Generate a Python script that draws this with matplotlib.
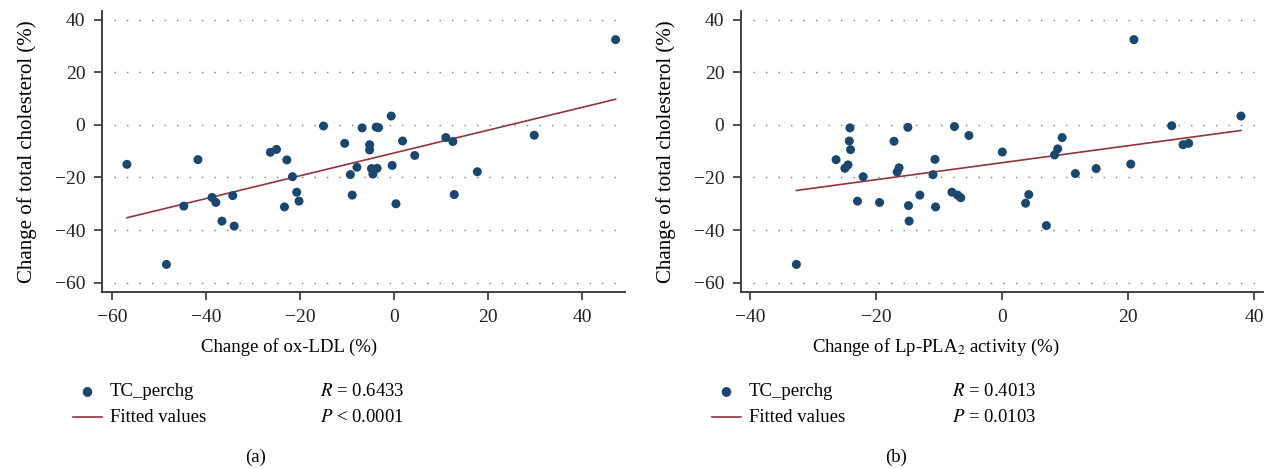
import numpy as np
import matplotlib; matplotlib.use('Agg')
import matplotlib.pyplot as plt

plt.rcParams['font.family'] = ['Liberation Serif', 'DejaVu Serif']
plt.rcParams['mathtext.fontset'] = 'stix'

# panel (a): change of ox-LDL vs change of TC (%)
oxldl_x = [-56.8, -48.4, -44.7, -41.7, -38.7, -37.9, -36.6, -34.3, -34.0, -26.3,
           -25.0, -23.3, -22.8, -21.6, -20.7, -20.2, -15.0, -10.5, -9.3, -8.9,
           -7.9, -6.8, -5.2, -5.2, -4.8, -4.5, -3.8, -3.3, -3.6, -0.6,
           -0.4, 0.4, 1.8, 4.4, 11.0, 12.5, 12.8, 17.7, 29.8, 47.1]
oxldl_y = [-15.0, -53.1, -30.9, -13.2, -27.6, -29.5, -36.6, -26.9, -38.5, -10.4,
           -9.3, -31.2, -13.3, -19.7, -25.6, -29.0, -0.4, -7.0, -18.9, -26.7,
           -16.1, -1.1, -7.5, -9.5, -16.6, -18.7, -0.8, -1.0, -16.5, 3.4,
           -15.4, -30.0, -6.1, -11.6, -4.8, -6.3, -26.5, -17.8, -3.9, 32.5]

# panel (b): change of Lp-PLA2 activity vs change of TC (%)
lppla_x = [-32.7, -26.4, -25.0, -24.5, -24.2, -24.3, -24.1, -23.0, -22.1, -19.5,
           -17.2, -16.7, -16.4, -15.0, -14.9, -14.8, -13.1, -11.0, -10.7, -10.6,
           -8.0, -7.6, -7.1, -6.6, -5.3, 0.0, 3.7, 4.2, 7.0, 8.3,
           8.8, 9.5, 11.6, 14.9, 20.4, 20.9, 26.9, 28.7, 29.6, 37.9]
lppla_y = [-53.1, -13.2, -16.5, -15.2, -1.1, -6.1, -9.4, -29.0, -19.7, -29.5,
           -6.2, -17.9, -16.3, -0.9, -30.7, -36.6, -26.7, -18.9, -13.1, -31.2,
           -25.6, -0.6, -26.7, -27.7, -4.0, -10.3, -29.8, -26.5, -38.3, -11.4,
           -9.1, -4.8, -18.5, -16.6, -14.9, 32.5, -0.3, -7.5, -7.0, 3.4]

yticks = [-60, -40, -20, 0, 20, 40]

DOT = '#1a476f'
FIT = '#90353b'

W, H = 1272, 469
fig = plt.figure(figsize=(W / 100, H / 100), dpi=100)

panels = [
    dict(x=oxldl_x, y=oxldl_y, rect=(102, 625, 11, 292), xlim=(-62.1, 49.1),
         xticks=[-60, -40, -20, 0, 20, 40], xlabel='Change of ox-LDL (%)', xlab_cx=289,
         leg_x=73, stat_x=320, stats=('$R$ = 0.6433', '$P$ < 0.0001'), tag='(a)', tag_x=256),
    dict(x=lppla_x, y=lppla_y, rect=(741, 1263, 11, 292), xlim=(-41.5, 41.4),
         xticks=[-40, -20, 0, 20, 40], xlabel='Change of Lp-PLA$_2$ activity (%)', xlab_cx=936,
         leg_x=712, stat_x=952, stats=('$R$ = 0.4013', '$P$ = 0.0103'), tag='(b)', tag_x=896),
]

def lab(v):
    return f'\u2212{abs(v)}' if v < 0 else str(v)

for p in panels:
    l, r, t, b = p['rect']
    ax = fig.add_axes([l / W, 1 - b / H, (r - l) / W, (b - t) / H])
    x = np.array(p['x'])
    y = np.array(p['y'])
    for yv in yticks:
        ax.axhline(yv, xmin=0.023, xmax=0.988, color='#7a7a7a', lw=1.0,
                   linestyle=(0, (1, 8)), zorder=0)
    k, c = np.polyfit(x, y, 1)
    xs = np.array([x.min(), x.max()])
    ax.plot(xs, k * xs + c, color=FIT, lw=1.2, zorder=2)
    ax.scatter(x, y, s=42, color=DOT, edgecolors='none', zorder=3)
    ax.set_xlim(*p['xlim'])
    ax.set_ylim(-63.6, 43.4)
    ax.set_xticks(p['xticks'])
    ax.set_xticklabels([lab(v) for v in p['xticks']])
    ax.set_yticks(yticks)
    ax.set_yticklabels([lab(v) for v in yticks])
    for s in ['top', 'right']:
        ax.spines[s].set_visible(False)
    for s in ['left', 'bottom']:
        ax.spines[s].set_linewidth(1.3)
        ax.spines[s].set_color('#333333')
    ax.tick_params(direction='out', length=6, width=1.1, labelsize=14, pad=6, colors='#222222')
    ax.set_ylabel('Change of total cholesterol (%)', fontsize=15, labelpad=13)

    # x label and legend block below the axes
    fig.text(p['xlab_cx'] / W, 1 - 347 / H, p['xlabel'], fontsize=13.5, ha='center', va='center')
    fig.text((p['leg_x'] + 14) / W, 1 - 391 / H, '\u25cf', fontsize=9, color=DOT,
             ha='center', va='center', family=['DejaVu Sans'])
    fig.text((p['leg_x'] + 37) / W, 1 - 391 / H, 'TC_perchg', fontsize=13.5, ha='left', va='center')
    fig.add_artist(plt.Line2D([p['leg_x'] / W, (p['leg_x'] + 29) / W],
                              [1 - 417 / H, 1 - 417 / H], color=FIT, lw=1.2))
    fig.text((p['leg_x'] + 37) / W, 1 - 417 / H, 'Fitted values', fontsize=13.5, ha='left', va='center')
    fig.text(p['stat_x'] / W, 1 - 391 / H, p['stats'][0], fontsize=13.5, ha='left', va='center')
    fig.text(p['stat_x'] / W, 1 - 417 / H, p['stats'][1], fontsize=13.5, ha='left', va='center')
    fig.text(p['tag_x'] / W, 1 - 457 / H, p['tag'], fontsize=13.5, ha='center', va='center')

fig.savefig('out.png', dpi=100)
